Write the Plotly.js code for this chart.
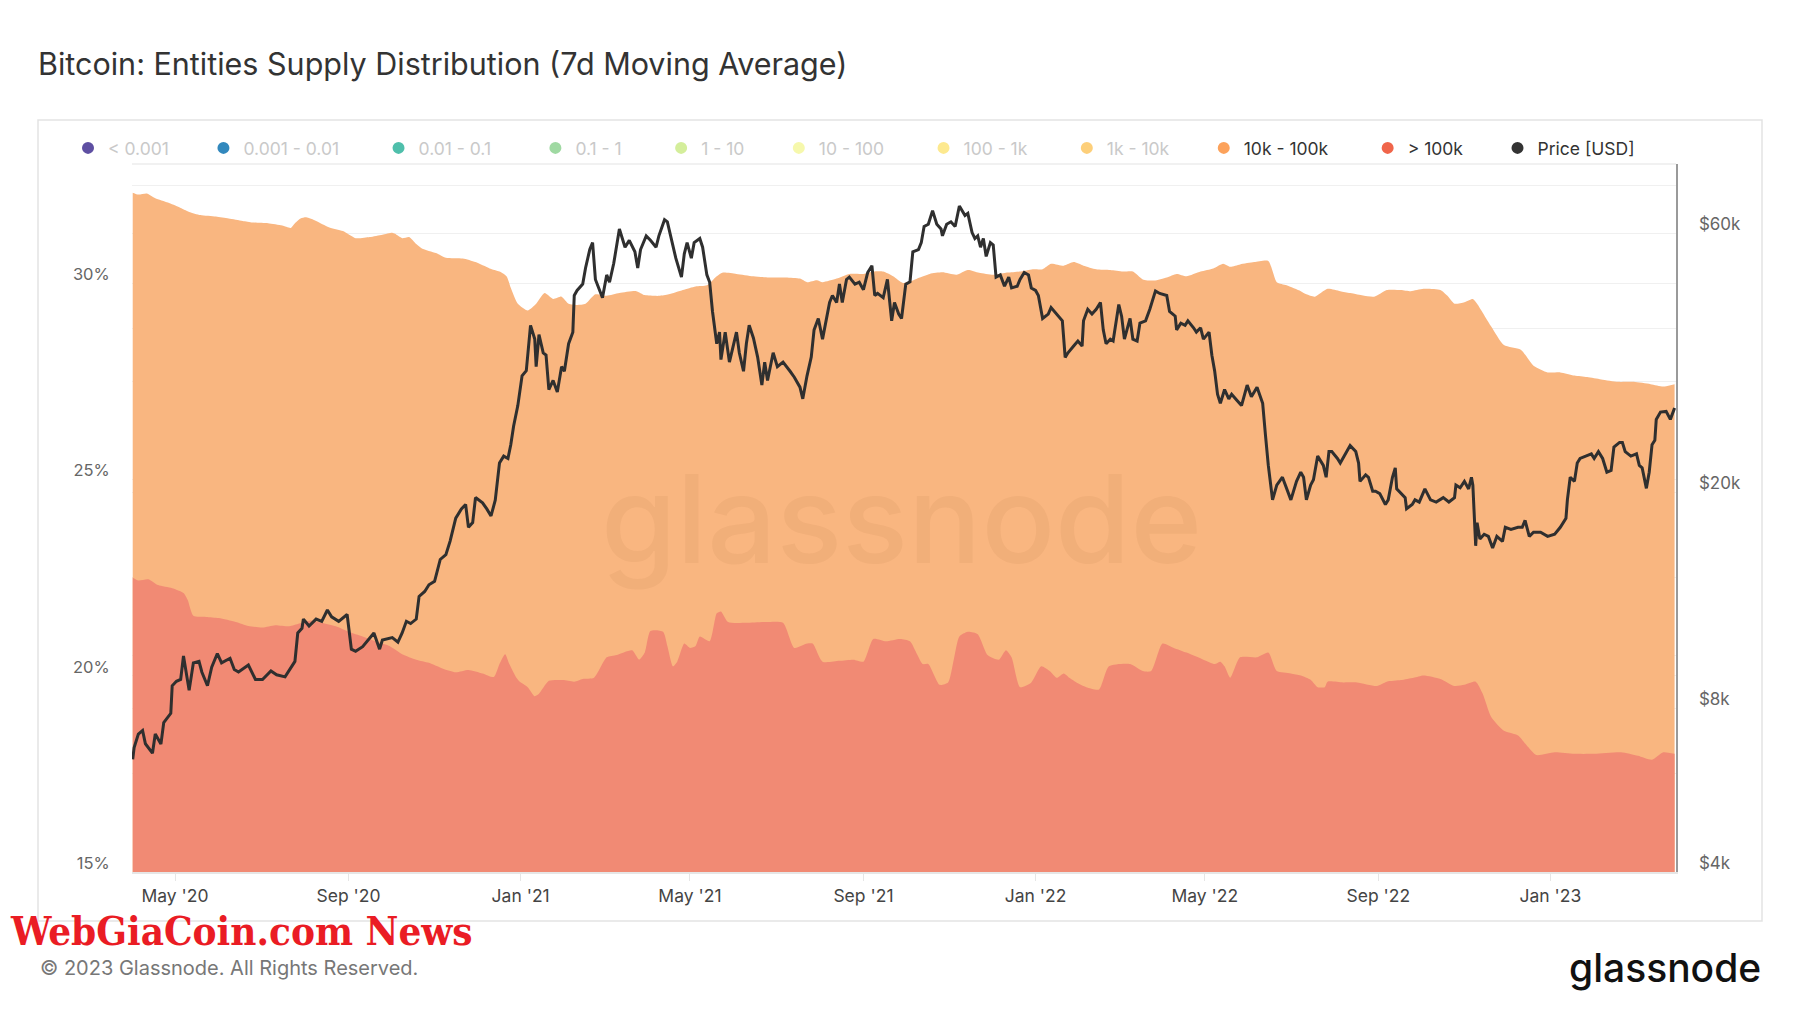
<!DOCTYPE html>
<html><head><meta charset="utf-8">
<script src="https://cdn.plot.ly/plotly-3.0.1.min.js"></script>
<style>html,body{margin:0;padding:0;background:#fff;}#chart{width:1800px;height:1013px;}</style>
</head><body><div id="chart"></div>
<script>
// Day offsets are counted from 2020-04-01.
const priceDay = [
0,1,4,7,9,14,16,20,22,27,
28,31,34,36,40,43,47,49,53,56,
60,63,69,72,75,82,87,92,98,102,
108,112,115,117,120,121,125,130,134,138,
141,146,152,155,158,163,168,171,175,177,
184,188,191,194,197,201,203,207,210,214,
218,222,225,229,233,236,238,241,243,248,
251,254,257,260,263,266,268,270,273,276,
279,280,282,285,286,288,291,293,295,298,
301,304,306,309,312,313,315,319,321,324,
326,328,331,333,336,338,341,345,349,352,
356,358,360,364,367,371,373,377,379,383,
385,389,391,393,396,398,402,404,407,409,
411,414,416,417,420,423,428,430,433,435,
437,440,443,446,448,450,454,457,461,466,
469,473,475,478,481,483,486,489,492,494,
496,499,501,503,506,508,512,515,518,521,
524,526,528,532,535,538,540,543,545,548,
551,553,557,559,561,564,567,570,573,574,
577,580,583,586,590,592,595,597,599,601,
603,605,608,610,612,615,618,621,623,627,
629,632,635,637,640,642,645,649,651,655,
659,661,663,667,670,673,674,677,680,683,
686,688,690,693,695,699,701,703,707,709,
712,714,718,721,725,728,733,735,739,740,
743,746,748,752,754,757,759,763,765,767,
769,771,774,777,779,783,786,790,793,797,
801,803,805,808,811,815,821,825,828,830,
832,835,837,840,842,844,846,848,850,854,
856,860,863,867,869,870,874,876,879,881,
884,888,890,893,895,896,899,902,903,907,
909,912,916,920,924,927,929,933,937,938,
941,944,947,949,950,952,953,955,958,961,
964,967,971,973,977,982,985,987,990,993,
998,1003,1008,1012,1016,1017,1019,1022,1024,1026,
1030,1034,1036,1039,1042,1045,1048,1050,1054,1056,
1058,1062,1066,1068,1070,1073,1075,1077,1079,1080,
1083,1087,1090,1093];
const priceUsd = [
6450,6780,7180,7290,6890,6620,7180,6880,7540,7840,
8810,8980,9050,10000,8640,9710,9770,9340,8810,9530,
10100,9710,9900,9440,9340,9620,9050,9050,9380,9230,
9150,9530,9770,11020,11240,11690,11350,11690,11580,12150,
11800,11580,11920,10290,10200,10400,10810,11020,10290,10700,
10810,10600,11020,11580,11470,11690,12870,13140,13520,13720,
15050,15360,16270,17930,18650,19000,17250,17600,19570,19140,
18650,18100,19350,22650,23330,23100,24480,26470,28900,32790,
33500,36150,40620,38310,34090,39040,36150,35800,30940,32150,
30620,34090,33430,37570,39460,46100,47100,48380,51810,56010,
57670,49340,47250,45660,50300,48760,52830,61100,56570,58240,
55480,51810,56010,59360,58240,56570,59360,63550,63000,57130,
54000,49840,55000,57670,54000,57670,58700,56570,50300,48760,
43070,37570,39460,35120,39460,34750,39460,36150,33430,37570,
40620,38500,35500,31530,34750,32150,36150,34090,34750,33430,
32600,31250,29740,32790,35500,39840,41820,38310,42230,44760,
46100,44760,48380,44760,49340,49840,48380,48760,47250,50810,
52300,46100,46500,45660,49340,41410,44760,42600,41820,48380,
48860,55480,56010,57670,61750,62350,66050,62350,61100,59360,
62350,63000,61750,67380,64700,65300,60200,58700,59360,56570,
58700,54400,57670,57100,49840,50300,47940,49840,47600,47940,
49340,50810,50300,47600,47100,46100,41820,42600,43800,42600,
41400,35450,36150,37200,38000,37200,41400,43480,42600,43480,
44760,39840,37570,38310,38000,44350,42230,38310,41820,38310,
38000,41000,41400,43480,47000,46500,46100,43070,42230,39840,
41000,40620,41400,40200,39460,40200,38310,39460,35790,33430,
30330,29180,30940,29740,30330,29500,28900,31530,30000,31250,
29180,25460,22430,19380,20630,21330,19380,20960,21790,21330,
19380,20630,21100,23330,22900,22430,21330,23780,23780,23100,
22650,23550,24390,23780,22650,20960,21550,21330,20100,20100,
19900,19000,19380,21330,22200,20300,19900,19560,18660,19000,
19380,19200,20300,19380,19200,19380,19560,19200,19560,20630,
20400,20960,20300,21330,20630,15950,17590,16420,16750,16600,
15800,16600,16250,17250,17100,17250,17250,17760,16600,16900,
16900,16600,16750,17250,17930,19380,21330,20960,22650,23100,
23330,23550,23100,23780,23100,21790,21950,24250,24720,24720,
23780,23330,23550,22430,22200,20350,21790,24480,24950,27260,
28120,28200,27260,28620];

const cohort10kDay = [
0,4,10,16,25,33,40,48,59,68,
78,85,96,106,112,115,119,123,130,139,
149,158,168,177,184,186,191,196,201,205,
215,222,234,243,253,260,265,268,273,280,
286,292,298,304,309,315,321,328,336,345,
357,363,373,380,390,399,407,414,418,428,
440,451,463,473,478,485,489,499,508,518,
525,532,539,546,551,558,565,574,584,592,
600,610,619,629,638,645,651,660,667,674,
683,693,702,709,716,724,733,740,747,757,
766,773,778,785,795,805,811,818,828,832,
838,847,856,863,880,889,899,906,915,927,
932,937,944,950,953,963,972,984,993,1003,
1012,1022,1031,1041,1053,1064,1076,1085,1093];
const cohort10kPct = [
32.31,32.26,32.29,32.17,32.06,31.94,31.82,31.74,31.70,31.65,
31.59,31.55,31.53,31.47,31.41,31.53,31.65,31.68,31.59,31.43,
31.33,31.15,31.18,31.24,31.29,31.26,31.15,31.18,31.00,30.89,
30.77,30.65,30.63,30.54,30.38,30.30,30.18,29.89,29.48,29.31,
29.48,29.75,29.60,29.66,29.48,29.45,29.48,29.72,29.68,29.75,
29.80,29.70,29.68,29.72,29.83,29.92,29.95,30.18,30.27,30.24,
30.18,30.15,30.15,30.12,30.03,30.08,30.03,30.12,30.24,30.24,
30.30,30.30,30.18,30.01,30.05,30.15,30.24,30.28,30.22,30.34,
30.27,30.22,30.27,30.30,30.36,30.36,30.50,30.45,30.54,30.45,
30.36,30.34,30.30,30.30,30.10,30.07,30.15,30.24,30.18,30.30,
30.38,30.50,30.42,30.48,30.54,30.57,30.03,29.95,29.80,29.72,
29.66,29.86,29.80,29.75,29.66,29.83,29.83,29.80,29.86,29.83,
29.68,29.48,29.52,29.60,29.48,28.90,28.43,28.31,27.90,27.73,
27.73,27.65,27.61,27.55,27.49,27.49,27.43,27.37,27.43];

const cohort100kDay = [
0,4,11,18,28,36,39,43,52,61,
73,82,92,101,111,118,126,134,144,153,
163,172,182,191,201,210,220,229,238,248,
256,260,264,267,272,274,280,285,288,295,
305,313,319,327,336,343,354,359,363,367,
376,379,383,386,391,395,399,402,409,414,
417,422,435,449,461,469,478,482,489,501,
511,518,525,534,544,551,556,560,564,572,
578,582,586,592,599,606,614,619,623,629,
637,644,650,655,660,664,669,676,685,692,
707,716,722,730,738,747,759,767,771,774,
778,785,797,805,811,821,828,835,840,845,
847,858,868,882,889,899,908,915,927,937,
944,952,957,963,972,982,989,995,1008,1022,
1036,1055,1067,1077,1085,1093];
const cohort100kPct = [
22.50,22.43,22.46,22.31,22.23,22.11,21.93,21.53,21.50,21.47,
21.37,21.27,21.23,21.29,21.26,21.33,21.41,21.35,21.26,21.12,
21.00,20.88,20.76,20.55,20.41,20.33,20.18,20.09,20.15,20.06,
19.97,20.30,20.55,20.30,19.95,19.86,19.71,19.48,19.54,19.87,
19.89,19.85,19.92,19.95,20.47,20.53,20.65,20.41,20.59,21.14,
21.12,20.76,20.24,20.36,20.82,20.71,20.76,21.00,20.88,21.59,
21.64,21.37,21.35,21.37,21.35,20.71,20.82,20.82,20.36,20.38,
20.41,20.36,20.94,20.88,20.94,20.88,20.55,20.30,20.30,19.77,
19.83,20.41,21.00,21.12,21.06,20.53,20.41,20.65,20.47,19.71,
19.83,20.24,20.12,19.95,20.06,19.95,19.83,19.71,19.65,20.24,
20.30,20.12,20.12,20.82,20.71,20.59,20.41,20.30,20.36,20.24,
19.95,20.47,20.47,20.59,20.12,20.06,20.01,19.90,19.71,19.71,
19.85,19.83,19.83,19.74,19.85,19.89,19.95,20.01,19.92,19.74,
19.77,19.85,19.54,18.95,18.60,18.48,18.19,17.98,18.05,18.01,
18.01,18.05,17.96,17.86,18.05,18.01];

const legendNames = ['&lt; 0.001','0.001 - 0.01','0.01 - 0.1','0.1 - 1','1 - 10','10 - 100','100 - 1k','1k - 10k','10k - 100k','&gt; 100k','Price [USD]'];
const legendColors = ['#5e4fa2','#3288bd','#4fbfab','#9fd9a2','#d4ee9b','#f6f8ac','#fde98f','#fdcf7a','#fca25b','#f0654a','#333333'];
const legendActive = [false,false,false,false,false,false,false,false,true,true,true];
const legendGap = [6,7,8,7,6,7,7,6,7,6,0];

const pctTicks = [15,17.5,20,22.5,25,27.5,30,32.5];
const pctTickText = ['15%','','20%','','25%','','30%',''];
const usdTicks = [4000,8000,10000,20000,40000,60000];
const usdTickText = ['$4k','$8k','','$20k','','$60k'];

function dayToDate(d){
  const t = new Date(Date.UTC(2020,3,1));
  t.setUTCDate(t.getUTCDate()+d);
  return t.toISOString().slice(0,10);
}

const traces = [];
traces.push({
  x: cohort10kDay.map(dayToDate), y: cohort10kPct, type:'scatter', mode:'lines',
  line:{width:0, color:'rgb(249,182,128)', shape:'spline', smoothing:0.6},
  fill:'tozeroy', fillcolor:'rgb(249,182,128)', yaxis:'y', showlegend:false, hoverinfo:'skip'
});
traces.push({
  x: cohort100kDay.map(dayToDate), y: cohort100kPct, type:'scatter', mode:'lines',
  line:{width:0, color:'rgb(241,138,116)', shape:'spline', smoothing:0.6},
  fill:'tozeroy', fillcolor:'rgb(241,138,116)', yaxis:'y', showlegend:false, hoverinfo:'skip'
});
traces.push({
  x: priceDay.map(dayToDate), y: priceUsd, type:'scatter', mode:'lines',
  line:{width:3, color:'#2f2f2f'}, yaxis:'y2', showlegend:false
});
legendNames.forEach((n,i)=>{
  const label = legendActive[i] ? n : '<span style="color:#c9c9c9">'+n+'</span>';
  traces.push({
    x:[null], y:[null], type:'scatter', mode:'markers', yaxis:'y',
    marker:{size:12, color:legendColors[i]},
    name: label + '\u00a0'.repeat(legendGap[i]),
    showlegend:true
  });
});

const L=132, R=1676, T=164, B=872;
const px = X => (X-L)/(R-L);
const py = Y => (B-Y)/(B-T);

const layout = {
  width:1800, height:1013,
  margin:{l:L, r:1800-R, t:T, b:1013-B, pad:0},
  paper_bgcolor:'#ffffff', plot_bgcolor:'#ffffff',
  font:{family:'Inter, "Open Sans", sans-serif', color:'#555'},
  title:{text:'Bitcoin: Entities Supply Distribution (7d Moving Average)', xref:'container', yref:'container',
         x:38/1800, xanchor:'left', y:1-64/1013, yanchor:'middle', font:{size:30.5, color:'#333'}},
  xaxis:{type:'date', range:['2020-03-31 12:00','2023-03-31'], tickformat:"%b '%y", dtick:'M4', tick0:'2020-01-01',
         ticks:'outside', ticklen:7, tickcolor:'#e6e6e6', tickwidth:1, showgrid:false, showline:true,
         linecolor:'#e6e6e6', linewidth:2, zeroline:false, tickfont:{size:17.5, color:'#444'}},
  yaxis:{range:[15,33.04], tickvals:pctTicks, ticktext:pctTickText, showgrid:true, gridcolor:'#f0f0f0',
         zeroline:false, showline:false, ticks:'outside', ticklen:18, tickcolor:'rgba(0,0,0,0)',
         ticklabelshift:-9, tickfont:{size:16.5, color:'#666'}},
  yaxis2:{type:'log', overlaying:'y', side:'right', range:[Math.log10(4000), Math.log10(80500)],
          tickvals:usdTicks, ticktext:usdTickText, showgrid:true, gridcolor:'#f0f0f0', zeroline:false,
          showline:true, linecolor:'#9a9a9a', linewidth:1.5, ticks:'outside', ticklen:18,
          tickcolor:'rgba(0,0,0,0)', ticklabelshift:-9, tickfont:{size:17, color:'#666'}},
  legend:{orientation:'h', xref:'paper', yref:'paper', x:px(68), xanchor:'left',
          y:py(148), yanchor:'middle', font:{size:17.5, color:'#333'}, bgcolor:'rgba(0,0,0,0)',
          itemwidth:30, traceorder:'normal'},
  shapes:[
    {type:'rect', xref:'paper', yref:'paper', x0:px(38), x1:px(1762), y0:py(921), y1:py(120),
     line:{color:'#e3e3e3', width:1.5}, fillcolor:'rgba(0,0,0,0)', layer:'below'},
    {type:'line', xref:'paper', yref:'paper', x0:0, x1:1, y0:1, y1:1, line:{color:'#ececec', width:1.5}}
  ],
  annotations:[
    {text:'glassnode', xref:'paper', yref:'paper', x:px(901), y:py(518), xanchor:'center', yanchor:'middle',
     showarrow:false, font:{family:'Inter, sans-serif', size:122, color:'rgba(120,60,20,0.06)', weight:500}},
    {text:'© 2023 Glassnode. All Rights Reserved.', xref:'paper', yref:'paper', x:px(38), y:py(968),
     xanchor:'left', yanchor:'middle', showarrow:false, font:{size:20, color:'#777'}},
    {text:'glassnode', xref:'paper', yref:'paper', x:px(1763), y:py(967), xanchor:'right', yanchor:'middle',
     showarrow:false, font:{family:'Inter, sans-serif', size:39, color:'#111', weight:500}},
    {text:'WebGiaCoin.com News', xref:'paper', yref:'paper', x:px(9), y:py(930), xanchor:'left', yanchor:'middle',
     showarrow:false, borderpad:0, font:{family:'"DejaVu Serif Condensed", "DejaVu Serif", serif', size:40, color:'#ea1c24', weight:700}}
  ]
};

Plotly.newPlot('chart', traces, layout, {displayModeBar:false, staticPlot:true});
</script>
</body></html>
